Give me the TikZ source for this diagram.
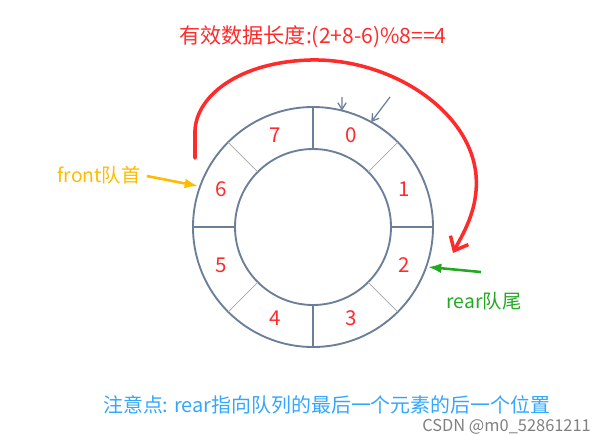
\documentclass[tikz,border=0pt]{standalone}
\usepackage{fontspec}
\setmainfont{Noto Sans CJK SC}
\usetikzlibrary{arrows.meta, positioning, calc}

\definecolor{ringblue}{HTML}{6B7F99}
\definecolor{tagred}{HTML}{FF2B2B}
\definecolor{frontyellow}{HTML}{FFBB00}
\definecolor{reargreen}{HTML}{22A822}
\definecolor{noteblue}{HTML}{33A6FF}

\begin{document}
\begin{tikzpicture}[
    x=0.03cm, y=-0.03cm,
    ring/.style={ringblue, line width=1.6pt},
    divider/.style={ringblue, line width=1pt},
    light divider/.style={gray!70, line width=0.6pt},
    slot/.style={tagred, font=\fontsize{17.5}{20}\selectfont, inner sep=0pt},
    pointer/.style={-{Latex[length=4mm, width=3mm]}, line width=2.2pt},
    hint/.style={-{Straight Barb[length=2mm, width=2.5mm]}, ringblue, line width=1.1pt}
]
    \useasboundingbox (0,0) rectangle (607,435);

    % === Define Coordinates ===
    \coordinate (O) at (313,227);
    \def\outerR{120}
    \def\innerR{78}

    % === Draw the ring ===
    \draw[ring] (O) circle[radius=\outerR];
    \draw[ring] (O) circle[radius=\innerR];

    % straight dividers and diagonal ones
    \foreach \a in {0,90,180,270}
        \draw[divider] ($(O)+(\a:\innerR)$) -- ($(O)+(\a:\outerR)$);
    \foreach \a in {45,135,225,315}
        \draw[light divider] ($(O)+(\a:\innerR)$) -- ($(O)+(\a:\outerR)$);

    % === Slot numbers ===
    \foreach \i in {0,...,7}
        \node[slot] (slot\i) at ($(O)+({45*\i-67.5}:99)$) {\i};

    % === Title and notes ===
    \node[tagred, font=\fontsize{18}{20}\selectfont] (title) at (313,37) {有效数据长度:(2+8-6)\%8==4};
    \node[noteblue, font=\fontsize{17}{20}\selectfont, anchor=west, inner sep=0pt] (note) at (103,405) {注意点: rear指向队列的最后一个元素的后一个位置};
    \node[gray, font=\fontsize{14}{16}\selectfont, anchor=east, inner sep=0pt] (mark) at (591,427) {CSDN @m0\_52861211};

    % === front pointer ===
    \node[frontyellow, font=\fontsize{16.5}{18}\selectfont, inner sep=0pt] (front) at (99,175) {front队首};
    \coordinate (front tip) at (198,186);
    \draw[pointer, frontyellow] (front.east) ++(6,1) -- (front tip);

    % === rear pointer ===
    \node[reargreen, font=\fontsize{16.5}{18}\selectfont, inner sep=0pt] (rear) at (484,301) {rear队尾};
    \coordinate (rear tail) at (481,272);
    \coordinate (rear tip) at (428,267);
    \draw[pointer, reargreen] (rear tail) -- (rear tip);

    % === small hints on slot 0 ===
    \coordinate (hint a) at (342,97);
    \coordinate (hint b) at (390,97);
    \draw[hint] (hint a) -- ($(O)+(-76:\outerR)$);
    \draw[hint] (hint b) -- ($(O)+(-61:\outerR)$);

    % === Red wrap-around arc ===
    \coordinate (wrap start) at (195,158);
    \coordinate (wrap end) at (453,253);
    \draw[tagred, line width=3pt, line cap=round, line join=round,
          -{Straight Barb[length=3.5mm, width=6mm]}]
        (wrap start) -- (195,130)
        .. controls (197,95) and (240,62) .. (310,60)
        .. controls (390,58) and (470,110) .. (476,175)
        .. controls (479,210) and (462,235) .. (wrap end);

\end{tikzpicture}
\end{document}
